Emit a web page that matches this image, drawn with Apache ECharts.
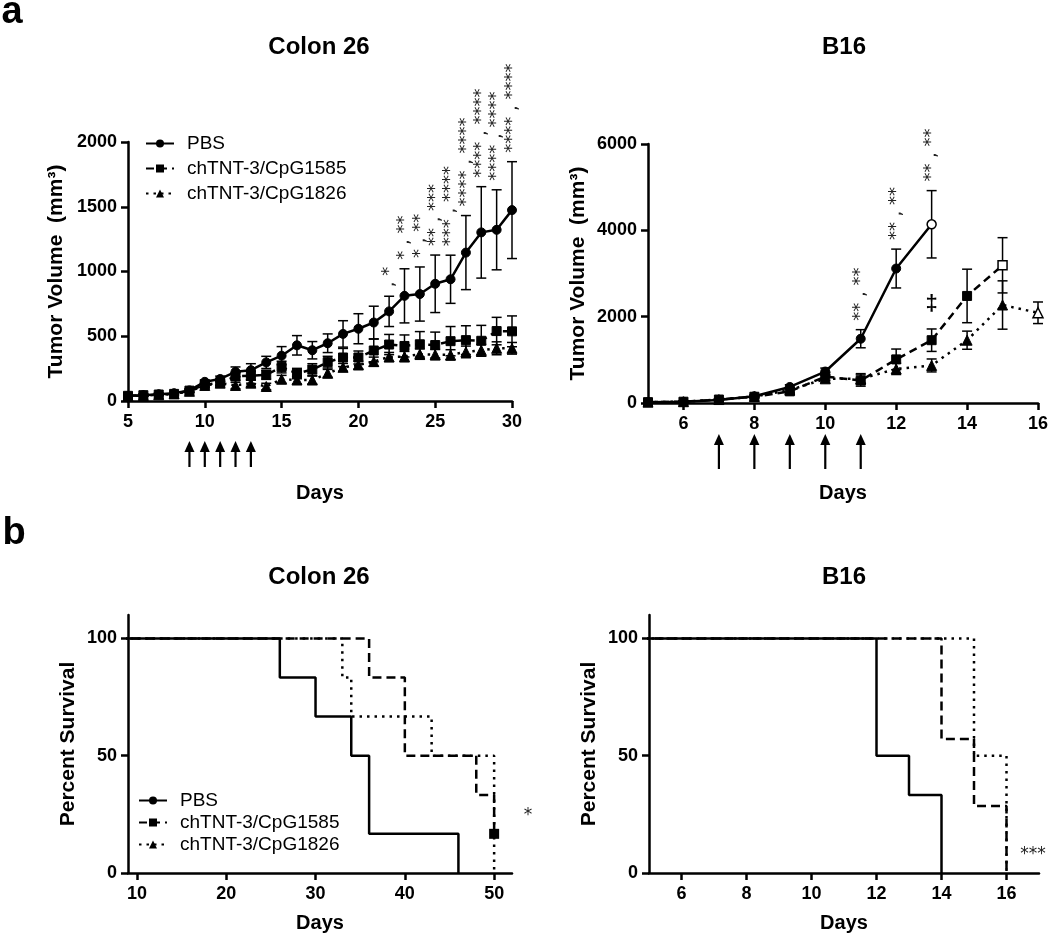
<!DOCTYPE html>
<html><head><meta charset="utf-8">
<script src="https://cdn.jsdelivr.net/npm/echarts@6/dist/echarts.min.js"></script>
<style>html,body{margin:0;padding:0;background:#fff}#c{width:1050px;height:936px}</style>
</head><body><div id="c"></div>
<script>
// ---------- Panel a: Colon 26 tumor volume ----------
const colonDays = [5,6,7,8,9,10,11,12,13,14,15,16,17,18,19,20,21,22,23,24,25,26,27,28,29,30];
const colonPBS     = [40,45,52,60,82,148,170,225,238,298,350,430,392,446,518,558,606,692,812,826,905,940,1146,1302,1322,1474];
const colonPBSErr  = [8,8,8,10,12,15,22,38,50,47,70,75,67,72,102,116,126,117,209,209,222,186,286,353,309,374];
const colon1585    = [40,45,50,55,80,126,141,190,196,202,262,212,243,300,336,336,390,436,425,438,432,462,470,465,540,538];
const colon1585Err = [8,8,8,10,12,15,20,30,35,35,45,40,45,45,70,50,88,78,85,98,100,113,111,119,106,119];
const colon1826    = [38,43,48,55,75,120,138,120,138,112,168,162,162,214,260,278,304,340,343,362,358,356,379,392,407,407];
const colon1826Err = [6,6,6,8,10,15,18,25,25,25,30,30,30,30,30,30,35,35,40,40,40,40,45,45,50,45];
const colonSigDays   = [22,23,24,25,26,27,28,29,30];
const colonSigLabels = [', *','* , **','* , **','** , ***','*** , ****','**** , ****','**** , ****','**** , ****','**** , ****'];
const colonArrowDays = [9,10,11,12,13];
const colonYTicks = [0,500,1000,1500,2000];

// ---------- Panel a: B16 tumor volume ----------
const b16PBSDays   = [5,6,7,8,9,10,11,12,13];
const b16PBS       = [20,30,70,155,372,729,1489,3115,4140];
const b16PBSErr    = [10,15,20,30,50,80,210,450,780];
const b161585Days  = [5,6,7,8,9,10,11,12,13,14,15];
const b161585      = [20,30,80,145,270,612,520,1010,1455,2480,3190];
const b161585Err   = [10,15,20,30,50,100,130,240,260,620,640];
const b161826Days  = [5,6,7,8,9,10,11,12,13,14,15,16];
const b161826      = [20,30,80,150,300,560,560,790,870,1455,2270,2090];
const b161826Err   = [10,15,20,30,50,90,120,130,150,210,560,250];
const b16SigDays   = [11,12,13];
const b16SigLabels = ['** , **','** , **','** , **'];
const b16DaggerDay = 13;
const b16ArrowDays = [7,8,9,10,11];
const b16XTicks = [6,8,10,12,14,16];
const b16YTicks = [0,2000,4000,6000];

// ---------- Panel b: survival ----------
const survColonPBSDays  = [0,26,30,34,36,46];
const survColonPBS      = [100,83.3,66.7,50,16.7,0];
const survColon1585Days = [0,36,40,48,50];
const survColon1585     = [100,83.3,50,33.3,16.7];
const survColon1826Days = [0,33,34,43,50];
const survColon1826     = [100,83.3,66.7,50,0];
const survColonCensor   = [[50,16.7]];
const survColonXTicks   = [10,20,30,40,50];
const survB16PBSDays  = [0,12,13,14];
const survB16PBS      = [100,50,33.3,0];
const survB161585Days = [0,14,15,16];
const survB161585     = [100,57.1,28.6,0];
const survB161826Days = [0,15,16];
const survB161826     = [100,50,0];
const survB16XTicks   = [6,8,10,12,14,16];
const survYTicks      = [0,50,100];

const names = ['PBS','chTNT-3/CpG1585','chTNT-3/CpG1826'];
const FONT = 'Liberation Sans, Arial, sans-serif';
const DASH = [9,5], DOT = [2.5,5];

function pts(days, vals, hollowLast){
  return days.map((d,i)=>{
    if (hollowLast && i === days.length-1) return {value:[d, vals[i]], itemStyle:{color:'#fff', borderColor:'#000', borderWidth:1.5}};
    return [d, vals[i]];
  });
}
function tumorLine(gi, name, days, vals, symbol, type){
  return {type:'line', name, xAxisIndex:gi, yAxisIndex:gi, data:pts(days, vals, gi===1),
    symbol, symbolSize: symbol==='triangle'?10:9, showSymbol:true,
    lineStyle:{color:'#000', width:2.5, type}, itemStyle:{color:'#000', borderColor:'#000', opacity:1},
    z:4, animation:false, silent:true};
}
function errSeries(gi, days, vals, errs){
  return {type:'custom', xAxisIndex:gi, yAxisIndex:gi, silent:true, animation:false, z:2, clip:false,
    data: days.map((d,i)=>[d, vals[i]-errs[i], vals[i]+errs[i]]),
    renderItem:(p, api)=>{
      const x = api.value(0);
      const lo = api.coord([x, api.value(1)]), hi = api.coord([x, api.value(2)]);
      const w = 5, st = {stroke:'#000', lineWidth:1.5};
      return {type:'group', children:[
        {type:'line', shape:{x1:lo[0],y1:lo[1],x2:hi[0],y2:hi[1]}, style:st},
        {type:'line', shape:{x1:hi[0]-w,y1:hi[1],x2:hi[0]+w,y2:hi[1]}, style:st},
        {type:'line', shape:{x1:lo[0]-w,y1:lo[1],x2:lo[0]+w,y2:lo[1]}, style:st}
      ]};
    }};
}
function topAt(day, groups){
  let m = -Infinity;
  groups.forEach(g=>{ const i=g[0].indexOf(day); if(i>=0) m=Math.max(m, g[1][i]+g[2][i]); });
  return m;
}
function sigSeries(gi, days, labels, groups){
  return {type:'custom', xAxisIndex:gi, yAxisIndex:gi, silent:true, animation:false, clip:false, z:5,
    data: days.map(d=>[d, topAt(d, groups)]),
    renderItem:(p, api)=>{
      const c = api.coord([api.value(0), api.value(1)]);
      return {type:'text', x:c[0], y:c[1]-9, rotation:Math.PI/2,
        style:{text:labels[p.dataIndex], fontSize:18, fontFamily:'DejaVu Sans', fill:'#222', align:'left', verticalAlign:'middle'}};
    }};
}
function arrowSeries(gi, days, y0, y1){
  return {type:'custom', xAxisIndex:gi, yAxisIndex:gi, silent:true, animation:false, clip:false,
    data: days.map(d=>[d,0]),
    renderItem:(p, api)=>{
      const c = api.coord([api.value(0), 0]);
      const x = c[0], tip = c[1]+y0, bot = c[1]+y1;
      return {type:'group', children:[
        {type:'line', shape:{x1:x,y1:tip+8,x2:x,y2:bot}, style:{stroke:'#000', lineWidth:2.2}},
        {type:'polygon', shape:{points:[[x,tip],[x-5,tip+11],[x+5,tip+11]]}, style:{fill:'#000'}}
      ]};
    }};
}
function survLine(gi, name, days, vals, type){
  return {type:'line', name, xAxisIndex:gi, yAxisIndex:gi, step:'end', data:days.map((d,i)=>[d, vals[i]]),
    symbol:'none', showSymbol:false, lineStyle:{color:'#000', width:2.5, type}, z:3, animation:false, silent:true};
}

const axisLineSt = {show:true, lineStyle:{color:'#000', width:2.5}};
const tickSt = {show:true, length:7, lineStyle:{color:'#000', width:2.5}};
const labelSt = {color:'#000', fontFamily:FONT, fontWeight:'bold', fontSize:18, formatter:v=>String(v)};
const xNameSt = {color:'#000', fontFamily:FONT, fontWeight:'bold', fontSize:20};
const yNameSt = {color:'#000', fontFamily:FONT, fontWeight:'bold', fontSize:21};
function xAx(gi, min, max, ticks, name, gap){
  const a = {type:'value', gridIndex:gi, min, max, axisLine:axisLineSt, splitLine:{show:false},
    axisTick:Object.assign({}, tickSt), axisLabel:Object.assign({margin:12}, labelSt),
    name, nameLocation:'middle', nameGap:gap, nameTextStyle:xNameSt};
  if (Array.isArray(ticks)) { a.axisTick.customValues = ticks; a.axisLabel.customValues = ticks; }
  else a.interval = ticks;
  return a;
}
function yAx(gi, min, max, ticks, name, gap){
  const a = {type:'value', gridIndex:gi, min, max, axisLine:axisLineSt, splitLine:{show:false},
    axisTick:Object.assign({}, tickSt), axisLabel:Object.assign({margin:11}, labelSt),
    name, nameLocation:'middle', nameGap:gap, nameTextStyle:yNameSt};
  a.axisTick.customValues = ticks; a.axisLabel.customValues = ticks;
  return a;
}

const colonGroups = [[colonDays,colonPBS,colonPBSErr],[colonDays,colon1585,colon1585Err],[colonDays,colon1826,colon1826Err]];
const b16Groups = [[b16PBSDays,b16PBS,b16PBSErr]];

const series = [
  errSeries(0, colonDays, colonPBS, colonPBSErr),
  errSeries(0, colonDays, colon1585, colon1585Err),
  errSeries(0, colonDays, colon1826, colon1826Err),
  tumorLine(0, names[0], colonDays, colonPBS, 'circle', 'solid'),
  tumorLine(0, names[1], colonDays, colon1585, 'rect', [8,5]),
  tumorLine(0, names[2], colonDays, colon1826, 'triangle', DOT),
  sigSeries(0, colonSigDays, colonSigLabels, colonGroups),
  arrowSeries(0, colonArrowDays, 40, 66),

  errSeries(1, b16PBSDays, b16PBS, b16PBSErr),
  errSeries(1, b161585Days, b161585, b161585Err),
  errSeries(1, b161826Days, b161826, b161826Err),
  tumorLine(1, names[0], b16PBSDays, b16PBS, 'circle', 'solid'),
  tumorLine(1, names[1], b161585Days, b161585, 'rect', [8,5]),
  tumorLine(1, names[2], b161826Days, b161826, 'triangle', DOT),
  sigSeries(1, b16SigDays, b16SigLabels, b16Groups),
  {type:'custom', xAxisIndex:1, yAxisIndex:1, silent:true, animation:false, clip:false,
    data:[[b16DaggerDay, topAt(b16DaggerDay, [[b161585Days,b161585,b161585Err]])]],
    renderItem:(p, api)=>{ const c = api.coord([api.value(0), api.value(1)]);
      return {type:'text', x:c[0], y:c[1]-14, style:{text:'‡', fontSize:22, fontWeight:'bold', fontFamily:FONT, fill:'#000', align:'center', verticalAlign:'bottom'}}; }},
  arrowSeries(1, b16ArrowDays, 31, 66),

  survLine(2, names[0], survColonPBSDays, survColonPBS, 'solid'),
  survLine(2, names[1], survColon1585Days, survColon1585, DASH),
  survLine(2, names[2], survColon1826Days, survColon1826, DOT),
  {type:'scatter', xAxisIndex:2, yAxisIndex:2, data:survColonCensor, symbol:'rect', symbolSize:10, itemStyle:{color:'#000', opacity:1}, z:5, animation:false, silent:true},

  survLine(3, names[0], survB16PBSDays, survB16PBS, 'solid'),
  survLine(3, names[1], survB161585Days, survB161585, DASH),
  survLine(3, names[2], survB161826Days, survB161826, DOT)
];

const legendBase = {orient:'vertical', selectedMode:false, data:names, itemWidth:28, itemHeight:10,
  textStyle:{color:'#000', fontFamily:FONT, fontSize:19, lineHeight:19, padding:[0,0,0,8]}};

const titleText = (text, x, y, size, lh) => ({type:'text', x, y, silent:true,
  style:{text, font:'bold '+size+'px '+FONT, lineHeight:lh||size, fill:'#000', align:'center', textAlign:'center', verticalAlign:'middle', textVerticalAlign:'middle'}});

const chart = echarts.init(document.getElementById('c'), null, {renderer:'canvas', width:1050, height:936});
chart.setOption({
  backgroundColor:'#fff',
  animation:false,
  grid:[
    {left:128, top:142, width:384, height:259, outerBoundsMode:'none'},
    {left:648, top:144, width:390, height:259, outerBoundsMode:'none'},
    {left:128, top:615, width:384, height:258, outerBoundsMode:'none'},
    {left:649, top:615, width:390, height:258, outerBoundsMode:'none'}
  ],
  xAxis:[
    xAx(0, 5, 30, 5, 'Days', 82),
    xAx(1, 5, 16, b16XTicks, 'Days', 80),
    xAx(2, 9, 52, survColonXTicks, 'Days', 40),
    xAx(3, 5, 17, survB16XTicks, 'Days', 40)
  ],
  yAxis:[
    yAx(0, 0, 2000, colonYTicks, 'Tumor Volume  (mm³)', 61),
    yAx(1, 0, 6000, b16YTicks, 'Tumor Volume  (mm³)', 59),
    yAx(2, 0, 110, survYTicks, 'Percent Survival', 49),
    yAx(3, 0, 110, survYTicks, 'Percent Survival', 49)
  ],
  legend:[
    Object.assign({left:140, top:129, itemGap:6}, legendBase),
    Object.assign({left:133, top:786, itemGap:3}, legendBase)
  ],
  graphic:[
    titleText('a', 12, 13, 38, 26),
    titleText('b', 14, 534, 38, 30),
    titleText('Colon 26', 319, 47, 24),
    titleText('B16', 844, 47, 24),
    titleText('Colon 26', 319, 577, 24),
    titleText('B16', 844, 577, 24),
    {type:'text', x:528, y:816, silent:true, style:{text:'*', font:'17px DejaVu Sans', fill:'#222', align:'center', verticalAlign:'middle'}},
    {type:'text', x:1033, y:855, silent:true, style:{text:'***', font:'17px DejaVu Sans', fill:'#222', align:'center', verticalAlign:'middle'}}
  ],
  series
});
</script></body></html>
